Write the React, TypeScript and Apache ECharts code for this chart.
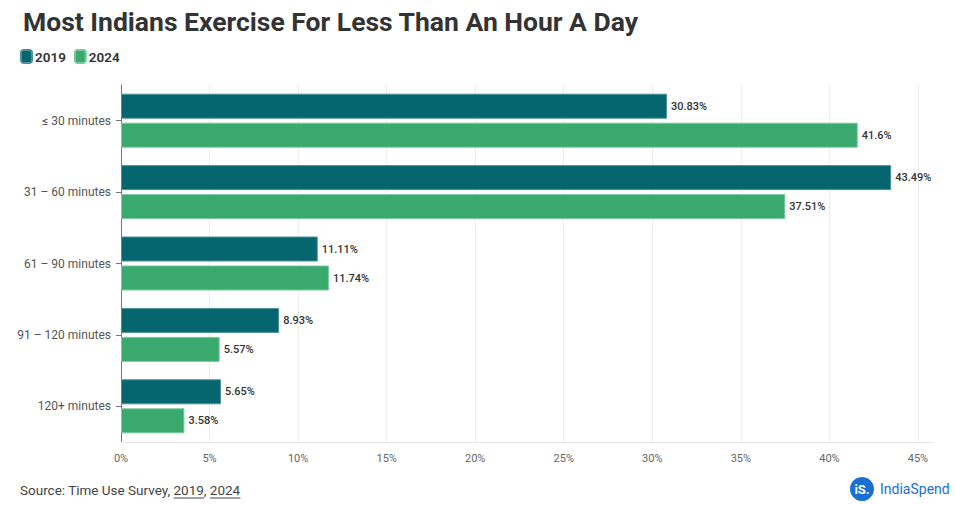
import React, { useEffect, useRef } from "react";
import * as echarts from "echarts";

const categories = ["≤ 30 minutes", "31 – 60 minutes", "61 – 90 minutes", "91 – 120 minutes", "120+ minutes"];
const values2019 = [30.83, 43.49, 11.11, 8.93, 5.65];
const values2024 = [41.6, 37.51, 11.74, 5.57, 3.58];
const seriesNames = ["2019", "2024"];
const colors = ["#05666f", "#3aa96d"];
const sourceParts = ["Source: Time Use Survey, ", "2019", ", ", "2024"];

export default function App() {
  const ref = useRef<HTMLDivElement>(null);
  useEffect(() => {
    document.body.style.margin = "0";
    const chart = echarts.init(ref.current!, null, { renderer: "svg" });
    const font = "Roboto, 'Noto Sans', sans-serif";
    const srcSize = 13.5;
    const ctx = document.createElement("canvas").getContext("2d")!;
    ctx.font = `${srcSize}px Roboto`;
    const srcX = 20;
    const w0 = ctx.measureText(sourceParts[0]).width;
    const w1 = ctx.measureText(sourceParts[1]).width;
    const w2 = ctx.measureText(sourceParts[2]).width;
    const w3 = ctx.measureText(sourceParts[3]).width;
    const ulY = 498;
    const label = {
      show: true,
      position: "right",
      distance: 4,
      fontSize: 11,
      fontWeight: 500,
      color: "#333",
      fontFamily: font,
      formatter: (p: any) => p.value + "%",
    };
    chart.setOption({
      animation: false,
      textStyle: { fontFamily: font },
      title: {
        text: "Most Indians Exercise For Less Than An Hour A Day",
        left: 18,
        top: 3,
        textStyle: { fontSize: 26.5, fontWeight: "bold", color: "#333", fontFamily: font },
      },
      legend: {
        left: 15,
        top: 44,
        itemWidth: 11,
        itemHeight: 13,
        itemGap: 8,
        icon: "roundRect",
        textStyle: { fontSize: 13.5, fontWeight: 600, color: "#333", padding: [0, 0, 0, -2] },
        data: seriesNames,
      },
      grid: { left: 121, right: 22, top: 85, bottom: 63 },
      xAxis: {
        type: "value",
        min: 0,
        max: 45.85,
        interval: 5,
        axisLine: { show: true, lineStyle: { color: "#e6e6e6" } },
        axisTick: { show: false },
        axisLabel: {
          showMaxLabel: false,
          fontSize: 11,
          color: "#666",
          margin: 11,
          formatter: (v: number) => v + "%",
        },
        splitLine: { show: true, showMaxLine: false, lineStyle: { color: "#ececec" } },
      },
      yAxis: {
        type: "category",
        data: categories,
        inverse: true,
        axisLine: { show: true, lineStyle: { color: "#777" } },
        axisTick: { show: true, length: 5, alignWithLabel: true, lineStyle: { color: "#777" } },
        axisLabel: { fontSize: 12, color: "#555", margin: 10 },
      },
      series: [
        {
          name: seriesNames[0],
          type: "bar",
          data: values2019,
          barWidth: 25,
          barGap: "16%",
          itemStyle: { color: colors[0], borderColor: "#4d9299", borderWidth: 1 },
          label,
        },
        {
          name: seriesNames[1],
          type: "bar",
          data: values2024,
          barWidth: 25,
          itemStyle: { color: colors[1], borderColor: "#7cc8a0", borderWidth: 1 },
          label,
        },
      ],
      graphic: [
        {
          type: "text",
          x: srcX,
          y: 490,
          style: {
            text: sourceParts.join(""),
            fontSize: srcSize,
            fill: "#444",
            verticalAlign: "middle",
            fontFamily: font,
          },
        },
        {
          type: "line",
          shape: { x1: srcX + w0, y1: ulY, x2: srcX + w0 + w1, y2: ulY },
          style: { stroke: "#444", lineWidth: 1 },
        },
        {
          type: "line",
          shape: { x1: srcX + w0 + w1 + w2, y1: ulY, x2: srcX + w0 + w1 + w2 + w3, y2: ulY },
          style: { stroke: "#444", lineWidth: 1 },
        },
        { type: "circle", shape: { cx: 862, cy: 489, r: 12 }, style: { fill: "#1a6fd1" } },
        {
          type: "text",
          x: 862,
          y: 489,
          style: {
            text: "iS.",
            fontSize: 13,
            fontWeight: "bold",
            fill: "#fff",
            align: "center",
            verticalAlign: "middle",
            fontFamily: font,
          },
        },
        {
          type: "text",
          x: 880,
          y: 489,
          style: {
            text: "IndiaSpend",
            fontSize: 14,
            fill: "#1a6fd1",
            verticalAlign: "middle",
            fontFamily: font,
          },
        },
      ],
    });
    return () => chart.dispose();
  }, []);
  return <div ref={ref} style={{ position: "absolute", left: 0, top: 0, width: 955, height: 505 }} />;
}
